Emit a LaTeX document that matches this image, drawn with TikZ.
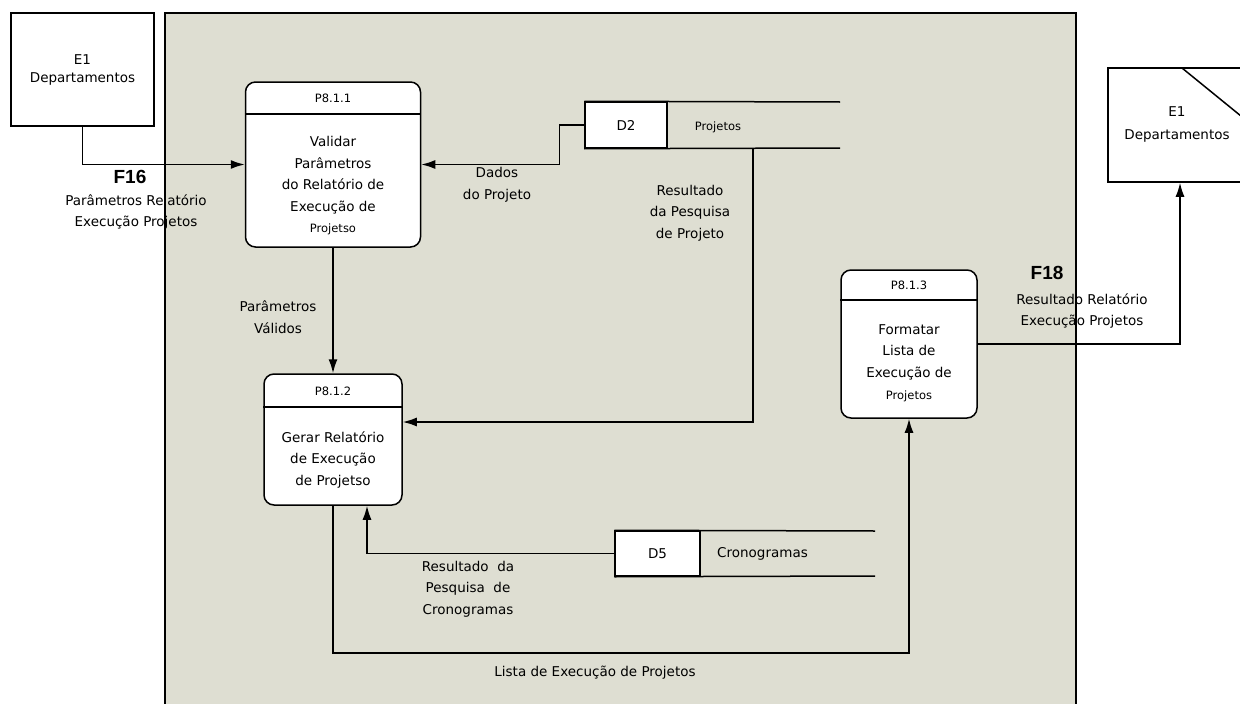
\documentclass[tikz,border=0pt]{standalone}
\usepackage{fontspec}
\setmainfont{DejaVu Sans}
\newfontfamily\boldf{Liberation Sans}
\usetikzlibrary{arrows.meta}
\definecolor{bggray}{RGB}{222,222,210}
\begin{document}
\begin{tikzpicture}[x=1pt,y=-1pt,
  ln/.style={line width=1.5pt},
  flow/.style={line width=1.5pt,-{Latex[length=14pt,width=9pt]}},
  proc/.style={draw,line width=1.5pt,fill=white,rounded corners=10pt,rectangle,inner sep=0pt},
  ent/.style={draw,line width=1.5pt,fill=white,rectangle,inner sep=0pt},
  txt/.style={font=\fontsize{13.5}{21.5}\selectfont,align=center,inner sep=0pt},
  smalltxt/.style={font=\fontsize{11.5}{21.5}\selectfont,align=center,inner sep=0pt},
  flab/.style={font=\boldf\bfseries\fontsize{19}{21}\selectfont,inner sep=0pt}]
\useasboundingbox (0,0) rectangle (1240,704);
\clip (0,0) rectangle (1240,704);
\fill[white] (0,0) rectangle (1240,704);
% context area
\filldraw[ln,fill=bggray] (165,13) rectangle (1076,730);

% external entities
\node[ent,minimum width=143pt,minimum height=113pt,font=\fontsize{13.5}{18}\selectfont,align=center] (E1L) at (82.5,69.5) {E1\\Departamentos};
\node[ent,minimum width=144pt,minimum height=114pt] (E1R) at (1180,125) {};
\draw[ln] (1182,68) -- (1252,125);
\node[font=\fontsize{13.5}{23}\selectfont,align=center,inner sep=0pt] (E1Rt) at (1177,124) {E1\\Departamentos};

% processes
\node[proc,minimum width=175pt,minimum height=165pt] (P1) at (333,164.5) {};
\draw[ln] (P1.west |- 0,114) -- (P1.east |- 0,114);
\node[smalltxt] (P1id) at (333,98) {P8.1.1};
\node[txt] (P1t) at (333,175) {Validar\\Parâmetros\\do Relatório de\\Execução de};
\node[smalltxt] (P1t2) at (333,229) {Projetso};

\node[proc,minimum width=138pt,minimum height=131pt] (P2) at (333,439.5) {};
\draw[ln] (P2.west |- 0,407) -- (P2.east |- 0,407);
\node[smalltxt] (P2id) at (333,391) {P8.1.2};
\node[txt] (P2t) at (333,460) {Gerar Relatório\\de Execução\\de Projetso};

\node[proc,minimum width=136pt,minimum height=148pt] (P3) at (909,344) {};
\draw[ln] (P3.west |- 0,300) -- (P3.east |- 0,300);
\node[smalltxt] (P3id) at (909,285) {P8.1.3};
\node[txt] (P3t) at (909,352) {Formatar\\Lista de\\Execução de};
\node[smalltxt] (P3t2) at (909,396) {Projetos};

% data stores
\node[ent,minimum width=82pt,minimum height=46pt,font=\fontsize{13.5}{15}\selectfont] (D2) at (626,125) {D2};
\draw[ln] (D2.north west) -- (840,102);
\draw[ln] (D2.south west) -- (840,148);
\node[smalltxt] (D2n) at (718,127) {Projetos};

\node[ent,minimum width=85pt,minimum height=45pt,font=\fontsize{13.5}{15}\selectfont] (D5) at (657.5,553.5) {D5};
\draw[ln] (D5.north west) -- (875,531);
\draw[ln] (D5.south west) -- (875,576);
\node[txt,anchor=west] (D5n) at (717,554) {Cronogramas};

% flows
\draw[flow] (E1L.south) |- (P1.west);
\node[flab] (F16) at (130,177) {F16};
\node[txt] (F16t) at (136,212) {Parâmetros Relatório\\Execução Projetos};

\draw[flow] (D2.west) -- ++(-25,0) |- (P1.east);
\node[txt] (dados) at (497,185) {Dados\\do Projeto};

\coordinate (d2out) at (753,148);
\draw[flow] (d2out) |- ([yshift=17.5pt]P2.east);
\node[txt] (respj) at (690,213) {Resultado\\da Pesquisa\\de Projeto};

\draw[flow] (P1.south) -- (P2.north);
\node[txt] (pval) at (278,317) {Parâmetros\\Válidos};

\draw[flow] (D5.west) -| ([xshift=34pt]P2.south);
\node[txt] (rescr) at (468,589) {Resultado\ \ da\\Pesquisa\ \ de\\Cronogramas};

\draw[flow] (P2.south) -- (P2.south |- 0,653) -| (P3.south);
\node[txt] (lista) at (595,673) {Lista de Execução de Projetos};

\draw[flow] (P3.east) -| (E1R.south);
\node[flab] (F18) at (1047,273) {F18};
\node[txt] (F18t) at (1082,311) {Resultado Relatório\\Execução Projetos};
\end{tikzpicture}
\end{document}
